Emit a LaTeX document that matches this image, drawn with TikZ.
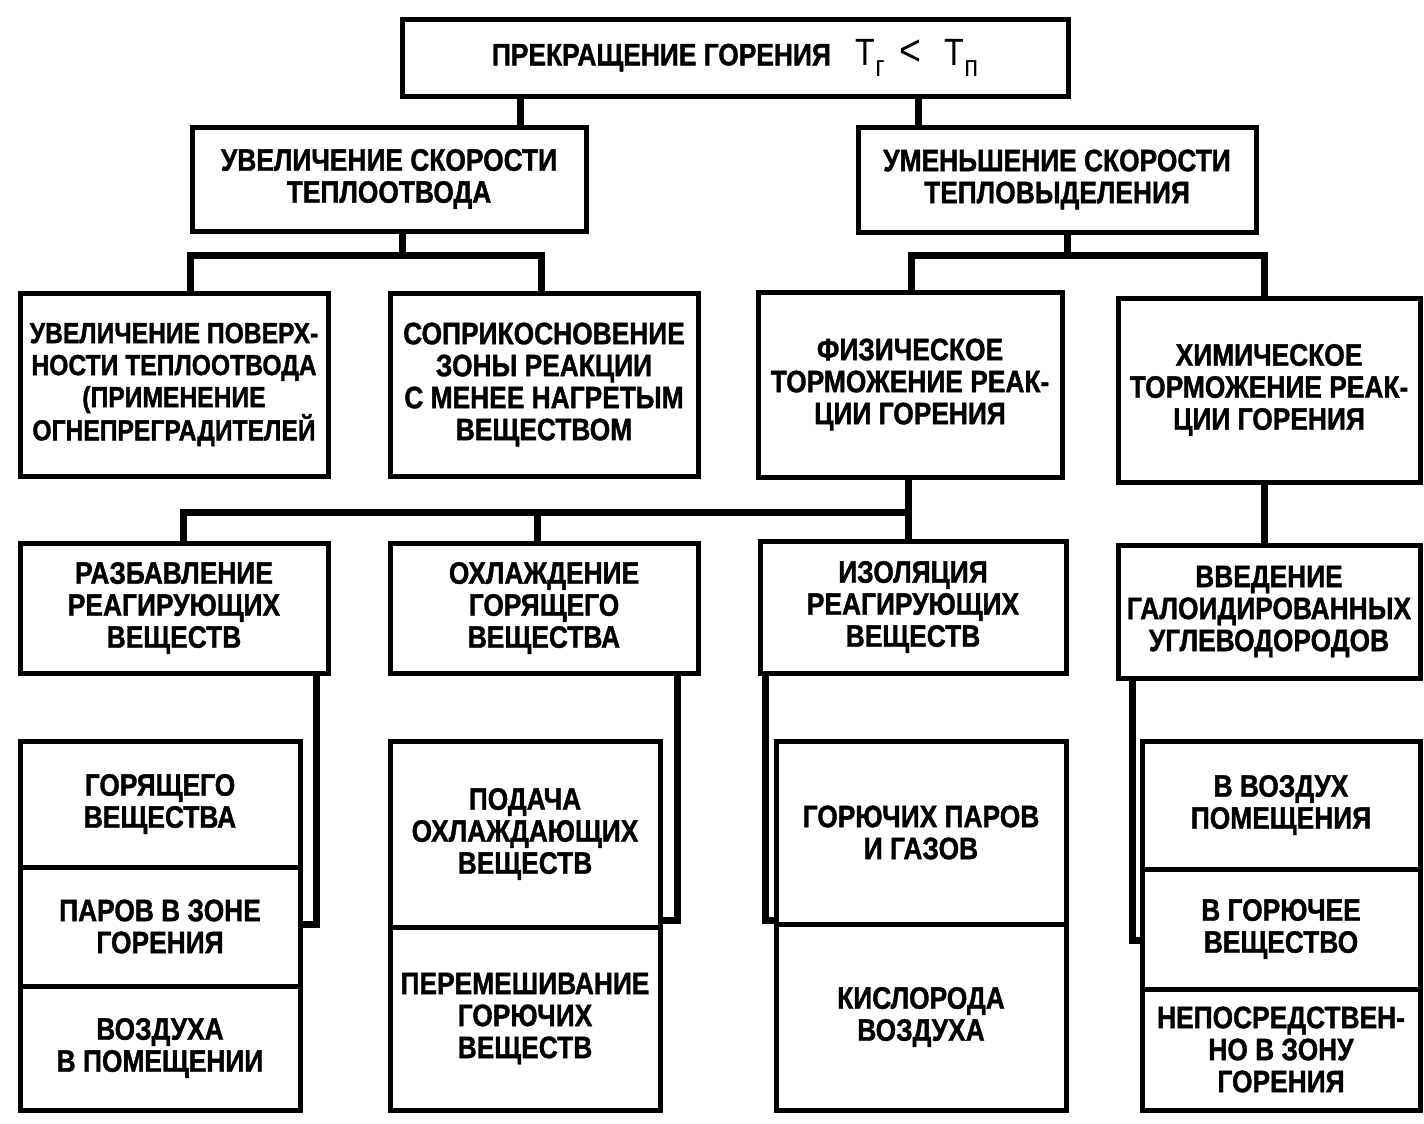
\documentclass[tikz,border=0pt]{standalone}
\usepackage{fontspec}
\setmainfont{Liberation Sans}[FakeStretch=0.85, BoldFeatures={FakeBold=1.2}]
\begin{document}
\begin{tikzpicture}[x=1pt,y=-1pt,
  box/.style={draw, line width=5pt, inner sep=0pt, align=center,
    font=\fontsize{31}{32}\selectfont\bfseries},
  conn/.style={line width=7pt}]
\useasboundingbox[fill=white] (0,0) rectangle (1424,1124);

% level 1
\node[box, minimum width=666, minimum height=76] (top) at (735,58)
  {ПРЕКРАЩЕНИЕ ГОРЕНИЯ\hspace{0.8em}{\mdseries\fontsize{38}{38}\selectfont Т\raisebox{-0.3em}{\fontsize{30}{30}\selectfont г}\hspace{0.4em}{\fontsize{44}{44}\selectfont <}\hspace{0.6em}Т\raisebox{-0.3em}{\fontsize{30}{30}\selectfont п}}};

% level 2
\node[box, minimum width=394, minimum height=104] (L2a) at (389,179)
  {УВЕЛИЧЕНИЕ СКОРОСТИ\\ТЕПЛООТВОДА};
\node[box, minimum width=398, minimum height=105] (L2b) at (1057,179.5)
  {УМЕНЬШЕНИЕ СКОРОСТИ\\ТЕПЛОВЫДЕЛЕНИЯ};

% level 3
\node[box, minimum width=308, minimum height=183, font=\fontsize{29}{32}\selectfont\bfseries] (A) at (174,384.5)
  {УВЕЛИЧЕНИЕ ПОВЕРХ-\\НОСТИ ТЕПЛООТВОДА\\(ПРИМЕНЕНИЕ\\ОГНЕПРЕГРАДИТЕЛЕЙ};
\node[box, minimum width=308, minimum height=183] (B) at (544,384.5)
  {СОПРИКОСНОВЕНИЕ\\ЗОНЫ РЕАКЦИИ\\С МЕНЕЕ НАГРЕТЫМ\\ВЕЩЕСТВОМ};
\node[box, minimum width=304, minimum height=185] (C) at (910,384.5)
  {ФИЗИЧЕСКОЕ\\ТОРМОЖЕНИЕ РЕАК-\\ЦИИ ГОРЕНИЯ};
\node[box, minimum width=302, minimum height=184] (D) at (1269,390)
  {ХИМИЧЕСКОЕ\\ТОРМОЖЕНИЕ РЕАК-\\ЦИИ ГОРЕНИЯ};

% level 4
\node[box, minimum width=308, minimum height=130] (E) at (174,608)
  {РАЗБАВЛЕНИЕ\\РЕАГИРУЮЩИХ\\ВЕЩЕСТВ};
\node[box, minimum width=308, minimum height=130] (F) at (544,608)
  {ОХЛАЖДЕНИЕ\\ГОРЯЩЕГО\\ВЕЩЕСТВА};
\node[box, minimum width=306, minimum height=132] (G) at (913,607)
  {ИЗОЛЯЦИЯ\\РЕАГИРУЮЩИХ\\ВЕЩЕСТВ};
\node[box, minimum width=302, minimum height=133] (H) at (1269,611.5)
  {ВВЕДЕНИЕ\\ГАЛОИДИРОВАННЫХ\\УГЛЕВОДОРОДОВ};

% level 5 stacks
\node[box, minimum width=280, minimum height=126] (S11) at (160,804)
  {ГОРЯЩЕГО\\ВЕЩЕСТВА};
\node[box, minimum width=280, minimum height=119] (S12) at (160,926.5)
  {ПАРОВ В ЗОНЕ\\ГОРЕНИЯ};
\node[box, minimum width=280, minimum height=124] (S13) at (160,1048)
  {ВОЗДУХА\\В ПОМЕЩЕНИИ};

\node[box, minimum width=270, minimum height=186] (S21) at (525,834)
  {ПОДАЧА\\ОХЛАЖДАЮЩИХ\\ВЕЩЕСТВ};
\node[box, minimum width=270, minimum height=183] (S22) at (525,1018.5)
  {ПЕРЕМЕШИВАНИЕ\\ГОРЮЧИХ\\ВЕЩЕСТВ};

\node[box, minimum width=290, minimum height=183] (S31) at (921,832.5)
  {ГОРЮЧИХ ПАРОВ\\И ГАЗОВ};
\node[box, minimum width=290, minimum height=186] (S32) at (921,1017)
  {КИСЛОРОДА\\ВОЗДУХА};

\node[box, minimum width=278, minimum height=128] (S41) at (1281,805)
  {В ВОЗДУХ\\ПОМЕЩЕНИЯ};
\node[box, minimum width=278, minimum height=120] (S42) at (1281,929)
  {В ГОРЮЧЕЕ\\ВЕЩЕСТВО};
\node[box, minimum width=278, minimum height=121] (S43) at (1281,1049.5)
  {НЕПОСРЕДСТВЕН-\\НО В ЗОНУ\\ГОРЕНИЯ};

% junction coordinates
\coordinate (t1) at (520,0);
\coordinate (t2) at (918,0);
\coordinate (j1) at (402,255);
\coordinate (k1) at (190,255);
\coordinate (k2) at (541,255);
\coordinate (j2) at (1067,255);
\coordinate (k3) at (911,255);
\coordinate (k4) at (1264,255);
\coordinate (m0) at (908,512);
\coordinate (m1) at (183,512);
\coordinate (m2) at (537,512);
\coordinate (h1) at (1264,0);
\coordinate (n1) at (316,924);
\coordinate (n2) at (677,920);
\coordinate (n3) at (765,920);
\coordinate (n4) at (1132,940);

% connectors
\draw[conn] (top.south -| t1) -- (L2a.north -| t1);
\draw[conn] (top.south -| t2) -- (L2b.north -| t2);

\draw[conn] (L2a.south -| j1) -- (j1);
\draw[conn] (A.north -| k1) -- (k1) -- (k2) -- (B.north -| k2);

\draw[conn] (L2b.south -| j2) -- (j2);
\draw[conn] (C.north -| k3) -- (k3) -- (k4) -- (D.north -| k4);

\draw[conn] (C.south -| m0) -- (G.north -| m0);
\draw[conn] (m0) -- (m1) -- (E.north -| m1);
\draw[conn] (m2) -- (F.north -| m2);

\draw[conn] (D.south -| h1) -- (H.north -| h1);

\draw[conn] (E.south -| n1) -- (n1) -- (S12.east |- n1);
\draw[conn] (F.south -| n2) -- (n2) -- (S21.east |- n2);
\draw[conn] (G.south -| n3) -- (n3) -- (S31.west |- n3);
\draw[conn] (H.south -| n4) -- (n4) -- (S42.west |- n4);
\end{tikzpicture}
\end{document}
